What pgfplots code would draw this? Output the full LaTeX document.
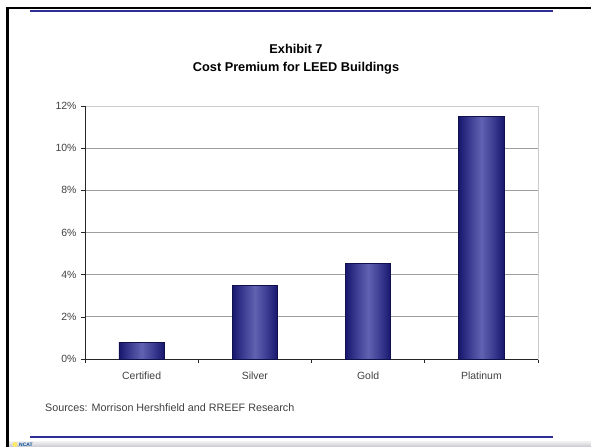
\documentclass[border=0pt]{standalone}
\usepackage{pgfplots}
\pgfplotsset{compat=1.18}
\usepackage{fontspec}
\setmainfont{Liberation Sans}
\definecolor{navyd}{HTML}{17176E}
\definecolor{navyl}{HTML}{6262B2}
\definecolor{navym}{HTML}{3C3C92}
\definecolor{frameblue}{HTML}{2E2E96}
\pgfdeclarehorizontalshading{barshade}{100bp}{color(0bp)=(navyd); color(25bp)=(navyd); color(37bp)=(navym); color(50bp)=(navyl); color(63bp)=(navym); color(75bp)=(navyd); color(100bp)=(navyd)}
\begin{document}
\begin{tikzpicture}
\begin{scope}[x=1bp,y=1bp]
\path[use as bounding box] (0,0) rectangle (591,447);
\clip (0,0) rectangle (591,447);
% frame decorations
\fill[black] (6,0) rectangle (9,440);
\fill[black] (6,437.5) rectangle (591,440);
\fill[frameblue] (30,434.5) rectangle (553,437);
\fill[frameblue] (30,8.5) rectangle (553,10.5);
\shade[top color=gray!12, bottom color=blue!10!gray!40] (9,0) rectangle (591,5.5);
\fill[yellow!80!orange!60] (15,2.5) circle (2.5);
\node[anchor=base west, inner sep=0pt, font=\bfseries\fontsize{5}{6}\selectfont, text=blue!50!cyan!60!black] at (19,0.6) {NCAT};
% titles
\node[anchor=base, inner sep=0pt, font=\bfseries\fontsize{12.8}{14}\selectfont] at (296,393) {Exhibit 7};
\node[anchor=base, inner sep=0pt, font=\bfseries\fontsize{12.8}{14}\selectfont] at (296,375.5) {Cost Premium for LEED Buildings};
\node[anchor=base west, inner sep=0pt, font=\fontsize{10.8}{12}\selectfont, text=black!75] at (45,35) {Sources: Morrison Hershfield and RREEF Research};
\end{scope}
\begin{axis}[
  at={(85bp,88bp)}, anchor=south west,
  scale only axis, width=453bp, height=253bp,
  xmin=-0.5, xmax=3.5, ymin=0, ymax=12,
  clip=false,
  axis line style={draw=gray!40, line width=0.8pt},
  ymajorgrids, grid style={draw=gray!75, line width=0.9pt},
  ytick={0,2,...,10},
  extra y ticks={12}, extra y tick style={grid=none},
  yticklabel={\pgfmathprintnumber{\tick}\%},
  extra y tick labels={12\%},
  xtick={0,1,2,3},
  xticklabels={Certified,Silver,Gold,Platinum},
  major x tick style={draw=none},
  minor xtick={-0.5,0.5,1.5,2.5,3.5},
  tick align=outside, tick pos=left,
  major tick length=4bp, minor tick length=4bp,
  tick style={black!85, line width=0.6pt},
  ticklabel style={font=\fontsize{10.5}{12}\selectfont, text=black!75},
  /pgf/number format/assume math mode=true,
  xticklabel style={yshift=-5bp},
  yticklabel style={xshift=-1bp},
  mybar/.style={ybar, bar shift=0pt, bar width=0.4, draw=navyd!70!black, line width=0.6pt, shading=barshade},
]
\draw[black!85, line width=0.8pt] (rel axis cs:0,1) -- (rel axis cs:0,0) -- (rel axis cs:1,0);
\addplot[mybar] coordinates {(0,0.8)};
\addplot[mybar] coordinates {(1,3.5)};
\addplot[mybar] coordinates {(2,4.55)};
\addplot[mybar] coordinates {(3,11.5)};
\end{axis}
\end{tikzpicture}
\end{document}
